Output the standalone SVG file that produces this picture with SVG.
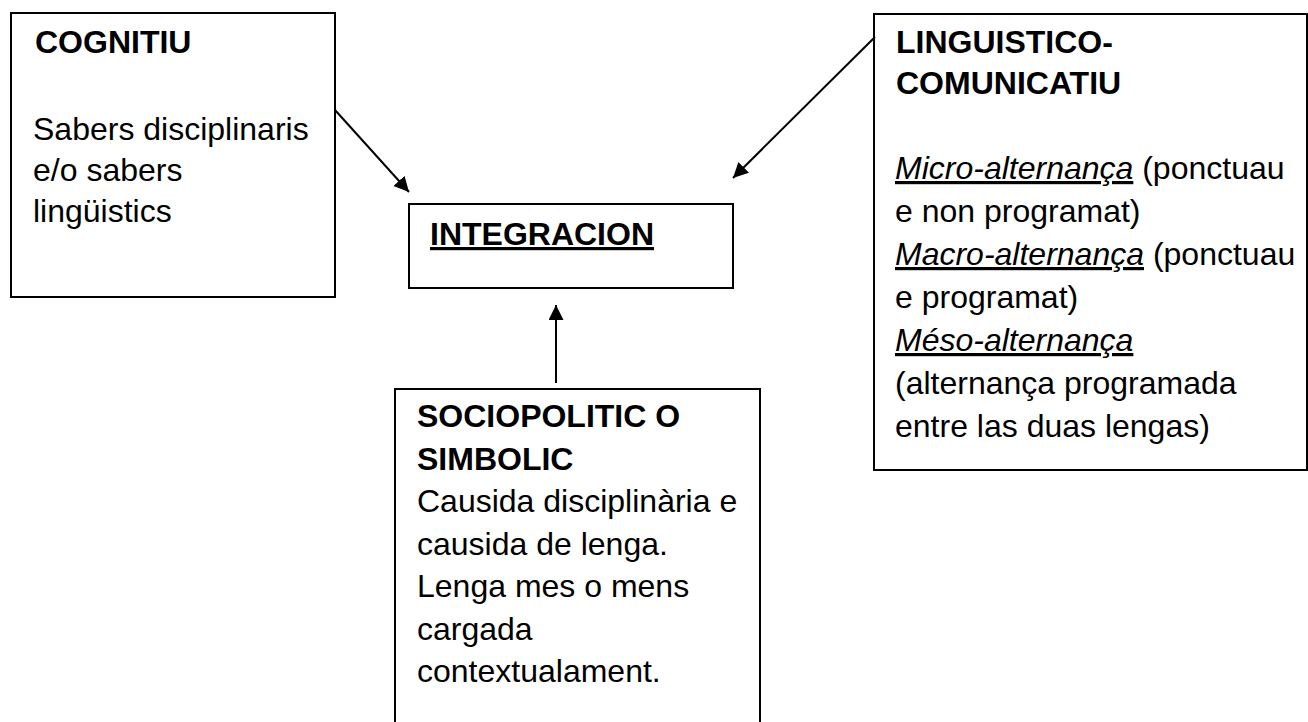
<svg xmlns="http://www.w3.org/2000/svg" width="1308" height="722" viewBox="0 0 1308 722">
<style>
.box{fill:#fff;stroke:#000;stroke-width:2}
.t{font-family:"Liberation Sans",Arial,sans-serif;font-size:32px;fill:#000}
.b{font-weight:bold}
.u{text-decoration:underline}
.i{font-style:italic;text-decoration:underline}
.conn{stroke:#000;stroke-width:2;fill:none;marker-end:url(#ah)}
</style>
<defs>
<marker id="ah" markerUnits="userSpaceOnUse" markerWidth="16" markerHeight="16" refX="15" refY="7.5" orient="auto">
<path d="M0,0 L15,7.5 L0,15 z" fill="#000"/>
</marker>
</defs>
<rect width="1308" height="722" fill="#fff"/>
<g id="cognitiu">
<rect class="box" x="11" y="13" width="324" height="284"/>
<text class="t b" x="35" y="53">COGNITIU</text>
<text class="t" x="33" y="140">Sabers disciplinaris</text>
<text class="t" x="33" y="181">e/o sabers</text>
<text class="t" x="33" y="222">lingüistics</text>
</g>
<g id="integracion">
<rect class="box" x="409" y="204" width="324" height="84"/>
<text class="t b u" x="430" y="245">INTEGRACION</text>
</g>
<g id="linguistico">
<rect class="box" x="874" y="14" width="433" height="456"/>
<text class="t b" x="896" y="53">LINGUISTICO-</text>
<text class="t b" x="896" y="94">COMUNICATIU</text>
<text class="t" x="895" y="179"><tspan class="i">Micro-alternança</tspan> (ponctuau</text>
<text class="t" x="895" y="222">e non programat)</text>
<text class="t" x="895" y="265"><tspan class="i">Macro-alternança</tspan> (ponctuau</text>
<text class="t" x="895" y="308">e programat)</text>
<text class="t" x="895" y="351"><tspan class="i">Méso-alternança</tspan></text>
<text class="t" x="895" y="394">(alternança programada</text>
<text class="t" x="895" y="437">entre las duas lengas)</text>
</g>
<g id="sociopolitic">
<rect class="box" x="395" y="389" width="365" height="345"/>
<text class="t b" x="417" y="427">SOCIOPOLITIC O</text>
<text class="t b" x="417" y="470">SIMBOLIC</text>
<text class="t" x="417" y="512">Causida disciplinària e</text>
<text class="t" x="417" y="555">causida de lenga.</text>
<text class="t" x="417" y="597">Lenga mes o mens</text>
<text class="t" x="417" y="640">cargada</text>
<text class="t" x="417" y="682">contextualament.</text>
</g>
<g id="connectors">
<line class="conn" x1="335" y1="110" x2="409" y2="192"/>
<line class="conn" x1="875" y1="37" x2="733" y2="178"/>
<line class="conn" x1="556" y1="383" x2="556" y2="305"/>
</g>
</svg>
